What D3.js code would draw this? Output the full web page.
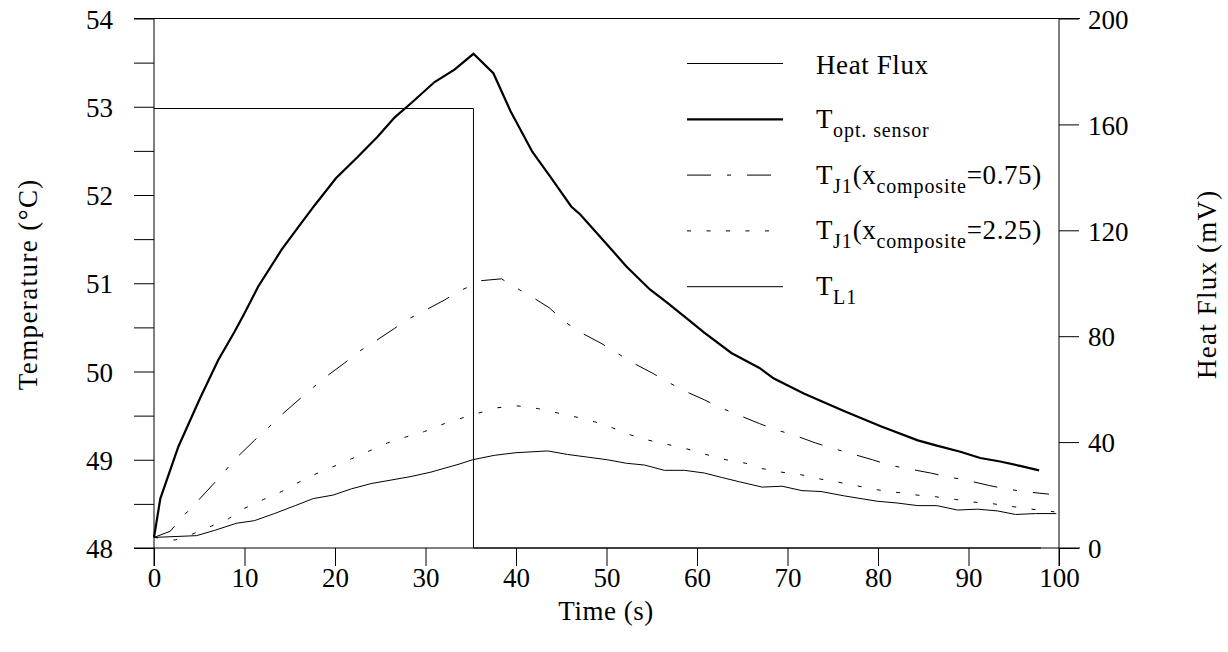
<!DOCTYPE html>
<html>
<head>
<meta charset="utf-8">
<script src="https://cdn.jsdelivr.net/npm/d3@7"></script>
<style>
  body { margin: 0; background: #fff; }
  text { font-family: "Liberation Serif", "Times New Roman", serif; fill: #000; }
</style>
</head>
<body>
<svg id="chart" width="1228" height="652"></svg>
<script>
// time (s) / temperature (°C)
const tOpt = [0, 0.7, 2.7, 5.1, 7.1, 8.9, 10.0, 11.5, 14.1, 15.9, 17.8, 20.1, 22.5, 24.7, 26.6, 28.4, 31.0, 33.2, 35.3, 37.5, 39.4, 41.8, 43.9, 46.1, 47.1, 50.4, 52.2, 54.8, 56.7, 59.0, 60.8, 63.8, 66.9, 68.5, 71.8, 76.3, 80.3, 84.4, 86.5, 89.1, 91.3, 93.5, 95.7, 97.8];
const vOpt = [48.12, 48.56, 49.15, 49.70, 50.13, 50.45, 50.66, 50.96, 51.38, 51.63, 51.89, 52.19, 52.43, 52.66, 52.88, 53.04, 53.28, 53.42, 53.60, 53.38, 52.95, 52.49, 52.19, 51.87, 51.78, 51.40, 51.19, 50.93, 50.78, 50.59, 50.44, 50.21, 50.04, 49.92, 49.75, 49.55, 49.38, 49.22, 49.16, 49.09, 49.02, 48.98, 48.93, 48.88];

const tJ075 = [0, 1.8, 2.2, 3.5, 4.9, 6.7, 7.9, 9.3, 11.1, 12.6, 14.1, 16.0, 17.6, 19.0, 21.1, 22.7, 24.4, 26.6, 28.2, 29.9, 32.1, 33.7, 35.2, 36.2, 38.4, 39.8, 41.7, 43.7, 45.3, 47.0, 49.4, 51.0, 52.7, 55.1, 56.8, 58.4, 60.8, 62.6, 64.5, 66.9, 68.7, 70.7, 73.1, 75.0, 77.0, 79.4, 81.2, 83.2, 85.8, 87.5, 89.7, 92.2, 94.1, 96.1, 98.9];
const vJ075 = [48.12, 48.19, 48.24, 48.39, 48.54, 48.74, 48.88, 49.04, 49.22, 49.36, 49.51, 49.68, 49.82, 49.94, 50.10, 50.23, 50.34, 50.49, 50.60, 50.69, 50.81, 50.91, 50.98, 51.03, 51.05, 50.96, 50.85, 50.72, 50.57, 50.45, 50.32, 50.22, 50.11, 49.98, 49.88, 49.79, 49.68, 49.59, 49.51, 49.41, 49.34, 49.28, 49.19, 49.13, 49.07, 49.00, 48.94, 48.90, 48.85, 48.81, 48.77, 48.71, 48.67, 48.64, 48.61];

const tJ225 = [0, 2.3, 4.3, 6.4, 8.2, 10.0, 12.1, 14.1, 15.9, 17.9, 20.0, 21.8, 23.8, 25.8, 27.9, 29.9, 32.1, 35.2, 38.0, 40.2, 42.4, 44.6, 46.8, 48.7, 50.7, 52.7, 54.7, 56.9, 59.0, 61.0, 63.2, 65.4, 67.2, 69.3, 71.5, 73.7, 75.9, 77.9, 79.9, 82.1, 84.3, 86.4, 88.6, 90.6, 92.8, 94.8, 97.0, 99.5];
const vJ225 = [48.12, 48.09, 48.16, 48.25, 48.33, 48.45, 48.55, 48.64, 48.74, 48.84, 48.93, 49.01, 49.10, 49.19, 49.26, 49.32, 49.41, 49.51, 49.59, 49.61, 49.58, 49.53, 49.48, 49.43, 49.36, 49.28, 49.22, 49.17, 49.12, 49.06, 49.00, 48.96, 48.90, 48.86, 48.83, 48.78, 48.74, 48.70, 48.66, 48.63, 48.60, 48.58, 48.55, 48.52, 48.50, 48.47, 48.44, 48.41];

const tL1 = [0, 4.7, 6.7, 9.1, 11.1, 13.3, 15.6, 17.6, 19.8, 21.8, 24.0, 26.2, 28.4, 30.6, 33.7, 35.2, 37.6, 40.0, 43.5, 45.7, 47.9, 50.1, 52.2, 54.2, 56.4, 58.6, 60.8, 62.7, 64.7, 67.2, 69.4, 71.6, 73.7, 76.3, 79.9, 82.1, 84.4, 86.5, 88.8, 91.0, 93.2, 95.2, 97.4, 99.7];
const vL1 = [48.12, 48.14, 48.20, 48.28, 48.31, 48.39, 48.48, 48.56, 48.60, 48.67, 48.73, 48.77, 48.81, 48.86, 48.95, 49.00, 49.05, 49.08, 49.10, 49.06, 49.03, 49.00, 48.96, 48.94, 48.88, 48.88, 48.85, 48.80, 48.75, 48.69, 48.70, 48.65, 48.64, 48.59, 48.53, 48.51, 48.48, 48.48, 48.43, 48.44, 48.42, 48.38, 48.39, 48.39];

// heat flux (mV), right axis
const tFlux = [0, 35.3, 35.3, 98];
const vFlux = [166, 166, 0, 0];

const xTicks = [0, 10, 20, 30, 40, 50, 60, 70, 80, 90, 100];
const yTicks = [48, 48.5, 49, 49.5, 50, 50.5, 51, 51.5, 52, 52.5, 53, 53.5, 54];
const y2Ticks = [0, 40, 80, 120, 160, 200];

const legendLabels = [
  [["Heat Flux", 0]],
  [["T", 0], ["opt. sensor", 1]],
  [["T", 0], ["J1", 1], ["(x", 0], ["composite", 1], ["=0.75)", 0]],
  [["T", 0], ["J1", 1], ["(x", 0], ["composite", 1], ["=2.25)", 0]],
  [["T", 0], ["L1", 1]]
];

const svg = d3.select("#chart");
const x = d3.scaleLinear().domain([0, 100]).range([154, 1059]);
const y = d3.scaleLinear().domain([48, 54]).range([548, 18.5]);
const y2 = d3.scaleLinear().domain([0, 200]).range([548, 18.5]);

const tick = 20;

// frame lines (top and bottom run over the tick extents)
svg.append("line").attr("x1", x(0) - tick).attr("x2", x(100) + tick + 1)
  .attr("y1", y(54)).attr("y2", y(54)).attr("stroke", "#000");
svg.append("line").attr("x1", x(0) - tick).attr("x2", x(100) + tick + 1)
  .attr("y1", y(48)).attr("y2", y(48)).attr("stroke", "#000");

// left axis
const gl = svg.append("g").attr("transform", `translate(${x(0)},0)`)
  .call(d3.axisLeft(y).tickValues(yTicks).tickSize(tick).tickSizeOuter(0)
    .tickFormat(d => Number.isInteger(d) ? d : ""));
gl.select(".domain").remove();
gl.append("line").attr("y1", y(54)).attr("y2", y(48) + 18).attr("stroke", "#000");

// right axis
const gr = svg.append("g").attr("transform", `translate(${x(100)},0)`)
  .call(d3.axisRight(y2).tickValues(y2Ticks).tickSize(tick).tickSizeOuter(0));
gr.select(".domain").remove();
gr.append("line").attr("y1", y2(200)).attr("y2", y2(0) + 18).attr("stroke", "#000");

// bottom axis
const gb = svg.append("g").attr("transform", `translate(0,${y(48)})`)
  .call(d3.axisBottom(x).tickValues(xTicks).tickSize(18).tickSizeOuter(0));
gb.select(".domain").remove();

[gl, gr, gb].forEach(g => {
  g.selectAll("line").attr("stroke", "#000");
  g.selectAll("text")
    .style("font-family", "'Liberation Serif', 'Times New Roman', serif")
    .style("font-size", "27px")
    .attr("fill", "#000");
});
gl.selectAll(".tick text").attr("x", -41).attr("dy", "0.36em");
gr.selectAll(".tick text").attr("x", 29).attr("dy", "0.36em");
gb.selectAll(".tick text").attr("y", 20).attr("dy", "0.71em");

// axis titles
svg.append("text").attr("x", 606).attr("y", 620).attr("text-anchor", "middle")
  .style("font-size", "27px").style("letter-spacing", "0.5px").text("Time (s)");
svg.append("text").attr("transform", `translate(37,${y(51) + 1}) rotate(-90)`)
  .attr("text-anchor", "middle").style("font-size", "27px")
  .style("letter-spacing", "1.4px").text("Temperature (°C)");
svg.append("text").attr("transform", `translate(1216,${y(51) + 1}) rotate(-90)`)
  .attr("text-anchor", "middle").style("font-size", "27px")
  .style("letter-spacing", "1.2px").text("Heat Flux (mV)");

// series
const line = d3.line();
const series = [
  { t: tFlux, v: vFlux, sc: y2, w: 1, dash: null },
  { t: tOpt, v: vOpt, sc: y, w: 2.2, dash: null },
  { t: tJ075, v: vJ075, sc: y, w: 1, dash: "24,16,4,16" },
  { t: tJ225, v: vJ225, sc: y, w: 1, dash: "4,15.5" },
  { t: tL1, v: vL1, sc: y, w: 1, dash: null }
];
series.forEach(s => {
  svg.append("path")
    .attr("d", line(s.t.map((t, i) => [x(t), s.sc(s.v[i])])))
    .attr("fill", "none")
    .attr("stroke", "#000")
    .attr("stroke-width", s.w)
    .attr("stroke-dasharray", s.dash);
});

// legend
const legend = svg.append("g").attr("transform", "translate(687,63.5)");
series.forEach((s, i) => {
  const row = legend.append("g").attr("transform", `translate(0,${i * 55.8})`);
  row.append("line").attr("x1", 0).attr("x2", 96)
    .attr("stroke", "#000").attr("stroke-width", s.w)
    .attr("stroke-dasharray", s.dash);
  const txt = row.append("text").attr("x", 129).attr("y", i === 0 ? 10 : 8.5)
    .style("font-size", "27px").style("letter-spacing", "0.6px");
  let sub = false;
  legendLabels[i].forEach(([str, isSub]) => {
    const ts = txt.append("tspan").text(str);
    if (isSub && !sub) ts.attr("dy", 9).style("font-size", "20px").style("letter-spacing", "0.9px");
    else if (isSub) ts.style("font-size", "20px").style("letter-spacing", "0.9px");
    else if (!isSub && sub) ts.attr("dy", -9);
    sub = !!isSub;
  });
});
</script>
</body>
</html>
